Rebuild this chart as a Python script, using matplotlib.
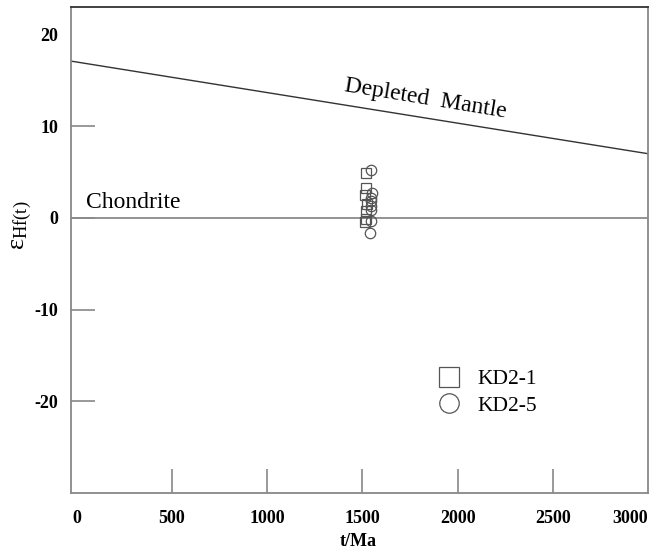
import matplotlib
matplotlib.use('Agg')
from matplotlib import pyplot as plt
from matplotlib.lines import Line2D

plt.rcParams['font.family'] = ['Liberation Serif', 'DejaVu Serif']
plt.rcParams['mathtext.fontset'] = 'stix'

# depleted mantle reference line (t/Ma, eHf)
dm_t = [0, 3000]
dm_e = [17.0, 7.0]

# zircon Hf data
kd21_t = [1518, 1520, 1515, 1522, 1517, 1519, 1516]
kd21_e = [4.9, 3.3, 2.5, 1.5, 0.8, -0.1, -0.5]
kd25_t = [1545, 1548, 1543, 1547, 1545, 1544, 1546, 1542]
kd25_e = [5.2, 2.7, 2.2, 1.8, 1.3, 0.9, -0.3, -1.6]

xticks = [0, 500, 1000, 1500, 2000, 2500, 3000]
yticks = [-20, -10, 0, 10, 20]

fig = plt.figure(figsize=(6.54, 5.56), dpi=100)
ax = fig.add_axes([0.1086, 0.1133, 0.8824, 0.8741])

ax.axline((dm_t[0], dm_e[0]), (dm_t[1], dm_e[1]), color='#333333', lw=1.0)
ax.axhline(0, color='#8a8a8a', lw=1.3)

ax.plot(kd21_t, kd21_e, 's', ms=7.5, mfc='none', mec='#555555', mew=0.9)
ax.plot(kd25_t, kd25_e, 'o', ms=7.5, mfc='none', mec='#555555', mew=0.9)

ax.text(48, 1.7, 'Chondrite', fontsize=17, va='center', ha='left')
ax.text(1830, 13.0, 'Depleted  Mantle', fontsize=17, va='center', ha='center',
        rotation=-9.3)

ax.set_xlim(-30, 3000)
ax.set_ylim(-30, 23)
ax.set_xticks(xticks)
ax.set_yticks(yticks)
ax.set_xticklabels([str(v) for v in xticks], fontweight='bold', fontsize=13)
ax.set_yticklabels([str(v) for v in yticks], fontweight='bold', fontsize=13)
ax.get_xticklabels()[-1].set_ha('right')
ax.tick_params(direction='in', length=17, width=1.2, color='#888888')
ax.tick_params(axis='x', pad=12)
ax.tick_params(axis='y', pad=9)

# no tick marks where they would sit on the frame
xt = ax.xaxis.get_major_ticks()
xt[0].tick1line.set_visible(False)
xt[-1].tick1line.set_visible(False)
ax.yaxis.get_major_ticks()[-1].tick1line.set_visible(False)

for s in ax.spines.values():
    s.set_color('#888888')
    s.set_linewidth(1.3)
ax.spines['top'].set_color('#333333')

fig.text(358 / 654, 1 - 542 / 556, 't/Ma', fontweight='bold', fontsize=13,
         ha='center', va='center')
fig.text(22 / 654, 1 - 225 / 556, r'$\mathregular{ε_{Hf(t)}}$', fontsize=19,
         ha='center', va='center', rotation=90)

handles = [
    Line2D([], [], ls='none', marker='s', ms=14, mfc='none', mec='#555555', mew=0.9),
    Line2D([], [], ls='none', marker='o', ms=14, mfc='none', mec='#555555', mew=0.9),
]
ax.legend(handles, ['KD2-1', 'KD2-5'], loc='upper left', bbox_to_anchor=(0.594, 0.295),
          frameon=False, fontsize=15.5, handletextpad=0.55, labelspacing=0.3,
          handlelength=1.5)

fig.savefig('out.png', dpi=100)
